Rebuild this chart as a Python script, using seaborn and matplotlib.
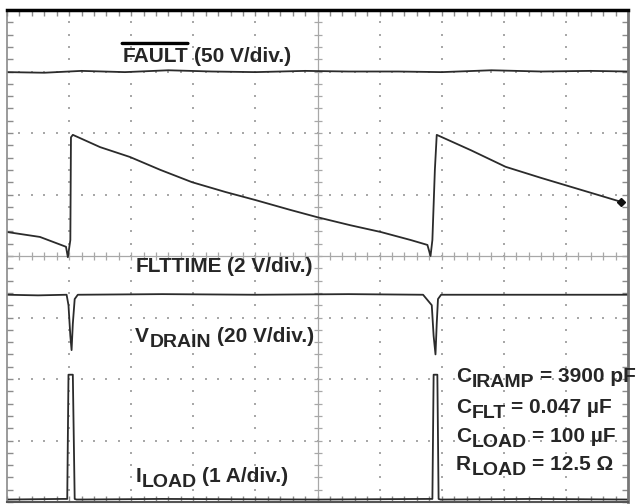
import numpy as np
import pandas as pd
import matplotlib
matplotlib.use("Agg")
import matplotlib.pyplot as plt
import seaborn as sns

# traces, in divisions (x: 0..10, y: 0..8)
fault_t = [0.0, 0.6, 1.2, 1.9, 2.6, 3.3, 4.0, 4.8, 5.5, 6.3, 7.0, 7.8, 8.6, 9.4, 10.0]
fault_v = [6.99, 6.98, 7.01, 6.99, 7.02, 7.0, 6.99, 7.01, 7.0, 7.0, 6.99, 7.02, 7.0, 7.01, 7.0]

flt_t = [0.0, 0.53, 0.95, 0.98, 1.02, 1.03, 1.06, 1.50, 1.98, 2.47, 2.98, 3.52, 4.00, 4.56,
         5.00, 5.53, 6.02, 6.50, 6.77, 6.82, 6.85, 6.89, 6.92, 7.47, 8.03, 8.60, 9.03, 9.56, 9.89]
flt_v = [4.39, 4.31, 4.15, 3.98, 4.26, 5.93, 5.97, 5.77, 5.61, 5.40, 5.20, 5.04, 4.91, 4.75,
         4.63, 4.50, 4.39, 4.26, 4.18, 4.00, 4.26, 5.40, 5.97, 5.72, 5.45, 5.27, 5.14, 4.98, 4.88]

vdrain_t = [0.0, 0.5, 0.96, 0.99, 1.02, 1.04, 1.06, 1.09, 1.14, 2.5, 4.0, 5.5, 6.7,
            6.84, 6.87, 6.90, 6.92, 6.94, 6.99, 8.5, 10.0]
vdrain_v = [3.37, 3.36, 3.37, 3.2, 2.7, 2.47, 2.9, 3.3, 3.37, 3.38, 3.37, 3.38, 3.37,
            3.2, 2.7, 2.4, 2.9, 3.3, 3.37, 3.37, 3.37]

iload_t = [0.0, 0.9, 0.97, 0.99, 1.06, 1.09, 1.12, 2.5, 5.0, 6.8, 6.85, 6.87, 6.93, 6.95, 6.98, 8.5, 10.0]
iload_v = [0.04, 0.05, 0.05, 2.07, 2.07, 0.05, 0.04, 0.05, 0.04, 0.05, 0.05, 2.07, 2.07, 0.05, 0.04, 0.05, 0.04]

sns.set_style("white")
plt.rcParams['font.family'] = ['Liberation Sans', 'DejaVu Sans']

fig = plt.figure(figsize=(6.43, 5.04), dpi=100)
ax = fig.add_axes([7 / 643, 2 / 504, 621 / 643, 492 / 504])
ax.set_xlim(0, 10)
ax.set_ylim(0, 8)

grid_col = "#a8a8a8"
# dotted graticule
sub = np.arange(0, 10.01, 0.2)
ysub = np.arange(0, 8.01, 0.2)
for i in range(1, 10):
    if i == 5:
        continue
    ax.plot([i] * len(ysub), ysub, ls="none", marker="s", ms=1.7, mew=0, color=grid_col)
for j in range(1, 8):
    if j == 4:
        continue
    ax.plot(sub, [j] * len(sub), ls="none", marker="s", ms=1.7, mew=0, color=grid_col)

# centre cross with small ticks
ax.axhline(4, color=grid_col, lw=0.9)
ax.axvline(5, color=grid_col, lw=0.9)
ax.plot(sub, [4] * len(sub), ls="none", marker="|", ms=6, mew=0.9, color=grid_col)
ax.plot([5] * len(ysub), ysub, ls="none", marker="_", ms=6, mew=0.9, color=grid_col)

# border ticks
ax.set_xticks(range(11))
ax.set_yticks(range(9))
ax.set_xticks(sub, minor=True)
ax.set_yticks(ysub, minor=True)
ax.tick_params(which="both", direction="in", top=True, right=True, bottom=True, left=True,
               length=4, width=1.0, color="#8c8c8c", labelbottom=False, labelleft=False)

# traces
tr = "#2b2b2b"
sns.lineplot(x=fault_t, y=fault_v, sort=False, estimator=None, color=tr, lw=1.3, ax=ax)
sns.lineplot(x=flt_t, y=flt_v, sort=False, estimator=None, color=tr, lw=1.3, ax=ax)
sns.lineplot(x=vdrain_t, y=vdrain_v, sort=False, estimator=None, color=tr, lw=1.3, ax=ax)
sns.lineplot(x=iload_t, y=iload_v, sort=False, estimator=None, color=tr, lw=1.3, ax=ax)
ax.plot(flt_t[-1:], flt_v[-1:], marker="D", ms=4.5, color="#111111", clip_on=False)

for s in ax.spines.values():
    s.set_visible(True)
ax.spines["top"].set_color("black")
ax.spines["top"].set_linewidth(2.5)
ax.spines["left"].set_color("#8a8a8a")
ax.spines["left"].set_linewidth(1.2)
ax.spines["right"].set_color("#777777")
ax.spines["right"].set_linewidth(2.0)
ax.spines["bottom"].set_color("#555555")
ax.spines["bottom"].set_linewidth(1.5)


def scope_label(x, y, main, sub="", rest="", size=15, dy=-3.5):
    t = ax.text(x, y, main, fontsize=size, fontweight="bold", va="baseline", ha="left")
    last = t
    if sub:
        last = ax.annotate(sub, xy=(1, 0), xycoords=t, xytext=(0.3, dy),
                           textcoords="offset points", fontsize=size - 1,
                           fontweight="bold", va="bottom", ha="left")
    if rest:
        ax.annotate(rest, xy=(1, 0), xycoords=last, xytext=(4, -dy if sub else 0),
                    textcoords="offset points", fontsize=size, fontweight="bold",
                    va="bottom", ha="left")
    return t


fault = scope_label(1.855, 7.15, "FAULT", rest="(50 V/div.)")
ax.annotate("", xy=(1, 1.2), xycoords=fault, xytext=(0, 1.2), textcoords=fault,
            arrowprops=dict(arrowstyle="-", lw=2.4, color="black", shrinkA=0, shrinkB=0))
scope_label(2.065, 3.74, "FLTTIME", rest="(2 V/div.)")
scope_label(2.065, 2.60, "V", "DRAIN", "(20 V/div.)")
scope_label(2.065, 0.33, "I", "LOAD", "(1 A/div.)")

scope_label(7.23, 1.95, "C", "IRAMP", "= 3900 pF")
scope_label(7.23, 1.45, "C", "FLT", "= 0.047 \u00b5F")
scope_label(7.23, 0.98, "C", "LOAD", "= 100 \u00b5F")
scope_label(7.23, 0.52, "R", "LOAD", "= 12.5 \u03a9")

fig.savefig("out.png", dpi=100)
